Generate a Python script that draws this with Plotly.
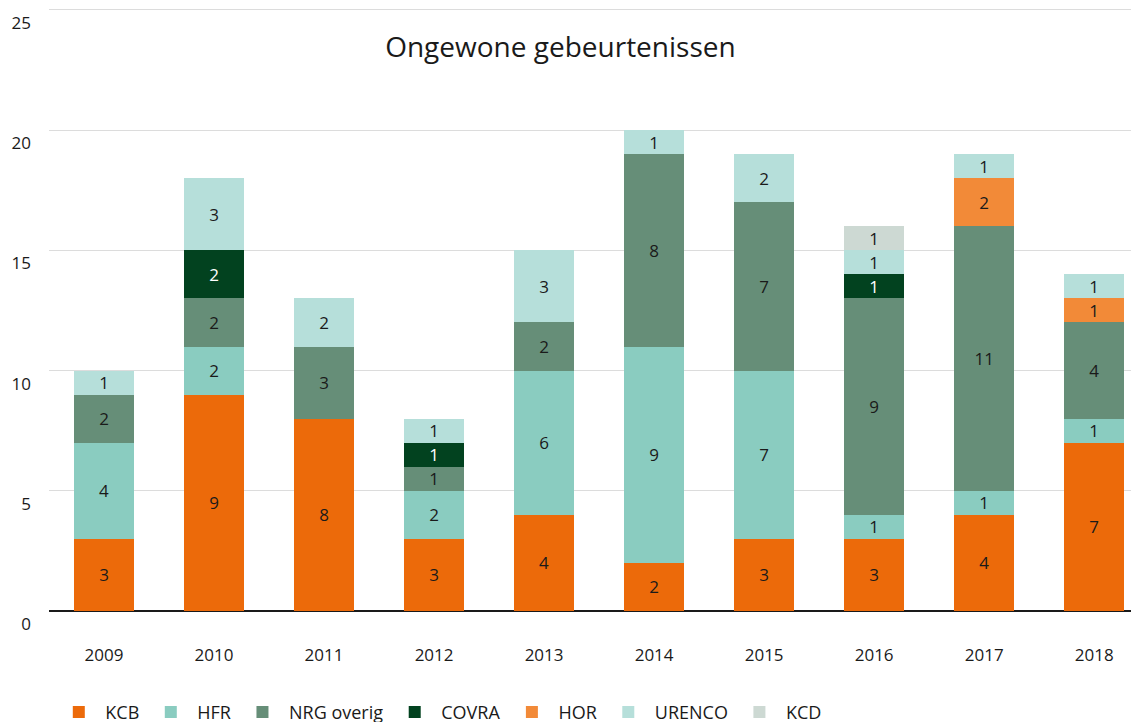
import plotly.graph_objects as go

years = ["2009", "2010", "2011", "2012", "2013", "2014", "2015", "2016", "2017", "2018"]
series_names = ["KCB", "HFR", "NRG overig", "COVRA", "HOR", "URENCO", "KCD"]
kcb = [3, 9, 8, 3, 4, 2, 3, 3, 4, 7]
hfr = [4, 2, 0, 2, 6, 9, 7, 1, 1, 1]
nrg_overig = [2, 2, 3, 1, 2, 8, 7, 9, 11, 4]
covra = [0, 2, 0, 1, 0, 0, 0, 1, 0, 0]
hor = [0, 0, 0, 0, 0, 0, 0, 0, 2, 1]
urenco = [1, 3, 2, 1, 3, 1, 2, 1, 1, 1]
kcd = [0, 0, 0, 0, 0, 0, 0, 1, 0, 0]
colors = ["#EC6A0A", "#8ACCC0", "#668E78", "#02421F", "#F28A38", "#B6DFDA", "#CDD9D3"]
text_colors = ["#1a1a1a", "#1a1a1a", "#1a1a1a", "#ffffff", "#1a1a1a", "#1a1a1a", "#1a1a1a"]
y_ticks = [0, 5, 10, 15, 20, 25]

FONT = "Open Sans"
fig = go.Figure()
for name, vals, col, tcol in zip(series_names, [kcb, hfr, nrg_overig, covra, hor, urenco, kcd], colors, text_colors):
    fig.add_trace(go.Bar(
        name=name, x=years, y=[v if v else None for v in vals],
        marker=dict(color=col, line=dict(width=0)),
        text=[str(v) if v else "" for v in vals],
        textposition="inside", insidetextanchor="middle", textangle=0,
        constraintext="none",
        textfont=dict(color=tcol, size=17, family=FONT),
        width=0.545, hoverinfo="x+y+name",
    ))

fig.update_layout(
    barmode="stack",
    width=1139, height=722,
    paper_bgcolor="white", plot_bgcolor="white",
    margin=dict(l=41, r=0, t=0, b=119, autoexpand=False),
    font=dict(family=FONT, color="#1a1a1a", size=17),
    title=dict(text="Ongewone gebeurtenissen", x=0.485, xanchor="center", y=0.946, yanchor="middle",
               font=dict(size=28, family=FONT, color="#1a1a1a")),
    legend=dict(orientation="h", x=0.003, xanchor="left", y=-0.168, yanchor="middle",
                font=dict(size=18, family=FONT), traceorder="normal", itemwidth=43),
    uniformtext=dict(mode=False),
)
fig.update_xaxes(type="category", range=[-0.5, 9.48], showgrid=False, showline=False, ticks="",
                 tickfont=dict(size=17), ticklabelstandoff=32, automargin=False)
fig.update_yaxes(range=[0, 25.08], tickvals=y_ticks, showgrid=True, gridcolor="#dcdcdc", gridwidth=1,
                 zeroline=True, zerolinecolor="#1a1a1a", zerolinewidth=2, showline=False,
                 tickfont=dict(size=17), ticklabelshift=13, ticklabelstandoff=17, automargin=False)

fig.write_html("out.html")
